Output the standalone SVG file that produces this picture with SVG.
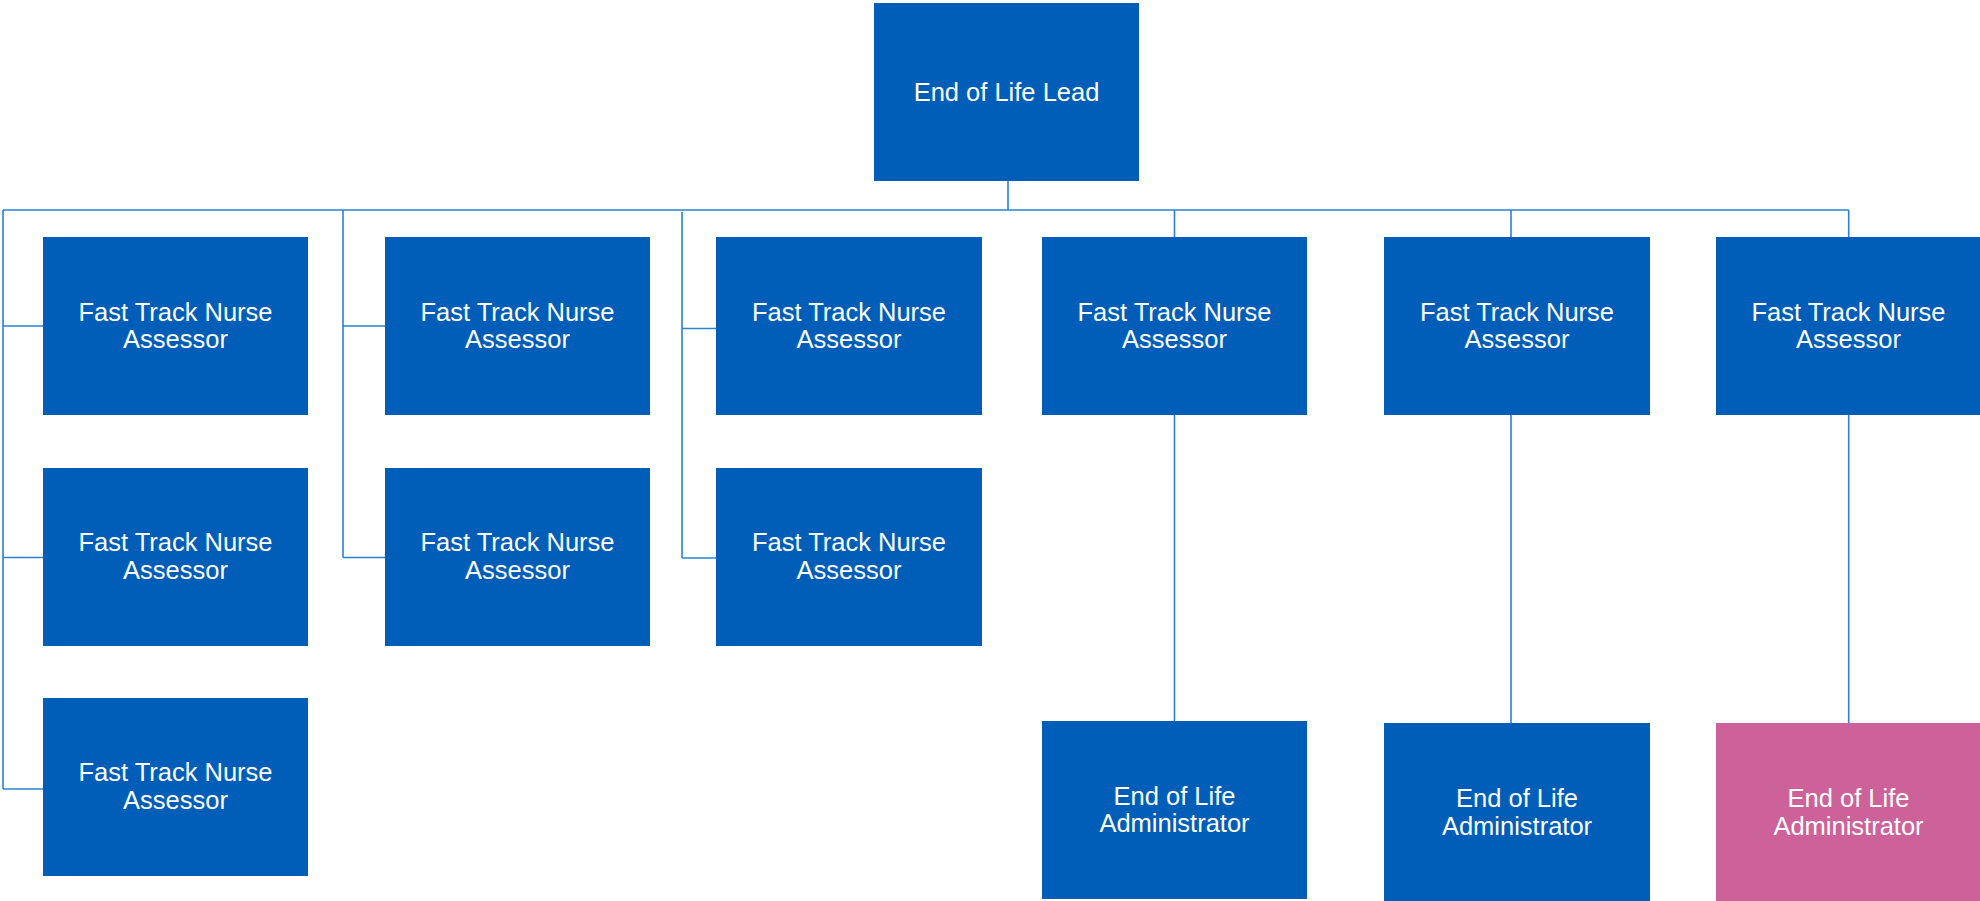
<svg xmlns="http://www.w3.org/2000/svg" width="1980" height="901" viewBox="0 0 1980 901">
<style>
.box{fill:#005EB8}
.pink{fill:#CC6299}
.t{font-family:"Liberation Sans",Arial,sans-serif;font-size:25.5px;fill:#ffffff;text-anchor:middle}
.c{stroke:#2A82D2;stroke-width:1.6;fill:none}
</style>
<rect width="1980" height="901" fill="#ffffff"/>
<g id="connectors">
<path class="c" d="M1008 181V210"/>
<path class="c" d="M3 210H1848.7"/>
<path class="c" d="M3 210V789M3 326H43M3 557.5H43M3 789H43"/>
<path class="c" d="M343 210V557.5M343 326H385M343 557.5H385"/>
<path class="c" d="M682 212V558M682 328.5H716M682 558H716"/>
<path class="c" d="M1174.5 210V721"/>
<path class="c" d="M1511 210V723"/>
<path class="c" d="M1848.7 210V723"/>
</g>
<g id="root">
<rect class="box" x="874" y="3" width="265" height="178"/>
<text class="t" x="1006.5" y="100.5">End of Life Lead</text>
</g>
<g id="n1">
<rect class="box" x="43" y="237" width="265" height="178"/>
<text class="t" x="175.5" y="320.5">Fast Track Nurse</text>
<text class="t" x="175.5" y="348">Assessor</text>
</g>
<g id="n2">
<rect class="box" x="43" y="468" width="265" height="178"/>
<text class="t" x="175.5" y="551">Fast Track Nurse</text>
<text class="t" x="175.5" y="578.5">Assessor</text>
</g>
<g id="n3">
<rect class="box" x="43" y="698" width="265" height="178"/>
<text class="t" x="175.5" y="781">Fast Track Nurse</text>
<text class="t" x="175.5" y="808.5">Assessor</text>
</g>
<g id="n4">
<rect class="box" x="385" y="237" width="265" height="178"/>
<text class="t" x="517.5" y="320.5">Fast Track Nurse</text>
<text class="t" x="517.5" y="348">Assessor</text>
</g>
<g id="n5">
<rect class="box" x="385" y="468" width="265" height="178"/>
<text class="t" x="517.5" y="551">Fast Track Nurse</text>
<text class="t" x="517.5" y="578.5">Assessor</text>
</g>
<g id="n6">
<rect class="box" x="716" y="237" width="266" height="178"/>
<text class="t" x="849" y="320.5">Fast Track Nurse</text>
<text class="t" x="849" y="348">Assessor</text>
</g>
<g id="n7">
<rect class="box" x="716" y="468" width="266" height="178"/>
<text class="t" x="849" y="551">Fast Track Nurse</text>
<text class="t" x="849" y="578.5">Assessor</text>
</g>
<g id="n8">
<rect class="box" x="1042" y="237" width="265" height="178"/>
<text class="t" x="1174.5" y="320.5">Fast Track Nurse</text>
<text class="t" x="1174.5" y="348">Assessor</text>
</g>
<g id="n9">
<rect class="box" x="1384" y="237" width="266" height="178"/>
<text class="t" x="1517" y="320.5">Fast Track Nurse</text>
<text class="t" x="1517" y="348">Assessor</text>
</g>
<g id="n10">
<rect class="box" x="1716" y="237" width="265" height="178"/>
<text class="t" x="1848.5" y="320.5">Fast Track Nurse</text>
<text class="t" x="1848.5" y="348">Assessor</text>
</g>
<g id="a1">
<rect class="box" x="1042" y="721" width="265" height="178"/>
<text class="t" x="1174.5" y="804.5">End of Life</text>
<text class="t" x="1174.5" y="832">Administrator</text>
</g>
<g id="a2">
<rect class="box" x="1384" y="723" width="266" height="178"/>
<text class="t" x="1517" y="807">End of Life</text>
<text class="t" x="1517" y="834.5">Administrator</text>
</g>
<g id="a3">
<rect class="pink" x="1716" y="723" width="265" height="178"/>
<text class="t" x="1848.5" y="807">End of Life</text>
<text class="t" x="1848.5" y="834.5">Administrator</text>
</g>
</svg>
